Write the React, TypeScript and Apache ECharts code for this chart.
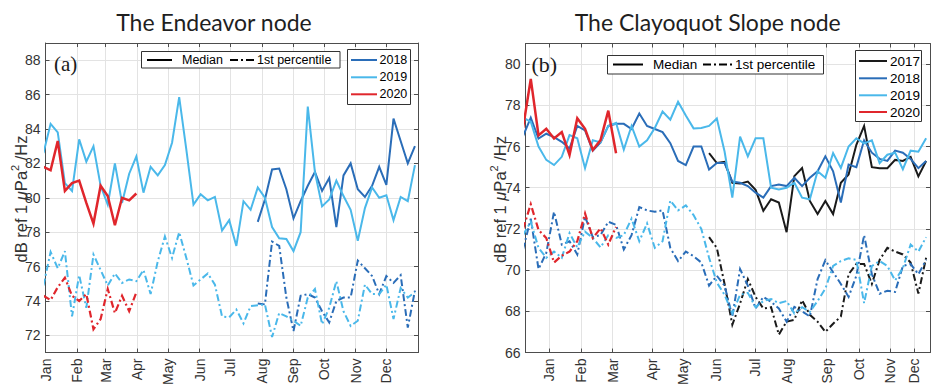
import React, { useEffect, useRef } from 'react';
import * as echarts from 'echarts';

// ---------- tick labels ----------
const monthNames = ['Jan', 'Feb', 'Mar', 'Apr', 'May', 'Jun', 'Jul', 'Aug', 'Sep', 'Oct', 'Nov', 'Dec'];
// Endeavor panel: x = day of year
const endeavorMonthTicks = [0, 31, 59, 90, 120, 151, 181, 212, 243, 273, 304, 334];
const endeavorYTicks = [72, 74, 76, 78, 80, 82, 84, 86, 88];
const endeavorFirstDay = -2; // day of year of weekly sample 0
// Clayoquot panel: x = weekly sample index
const clayMonthTicks = [3.37, 7.46, 11.55, 16.66, 20.66, 24.84, 29.91, 34.08, 39.16, 43.37, 47.33, 50.46];
const clayYTicks = [66, 68, 70, 72, 74, 76, 78, 80];

// ---------- Endeavor node (weekly values, dB) ----------
const endeavorMed2018Start = 30;
const endeavorMed2018 = [78.6, 79.9, 81.65, 81.7, 80.5, 78.8, 79.8, 80.7, 81.5, 80.4, 81.15, 78.3, 81.3, 82.0, 80.5, 80.05, 80.7, 81.8, 80.75, 84.6, 83.3, 82.0, 83.0];
const endeavorMed2019Start = 0;
const endeavorMed2019 = [82.6, 84.3, 83.8, 80.85, 80.4, 83.4, 82.1, 83.0, 80.7, 79.6, 82.0, 79.7, 81.4, 82.4, 80.3, 81.8, 81.3, 81.9, 83.2, 85.85, 82.8, 79.6, 80.2, 79.85, 80.05, 78.1, 78.7, 77.2, 79.8, 79.3, 80.6, 80.0, 78.3, 77.65, 77.6, 76.9, 78.0, 85.3, 81.5, 79.5, 79.9, 81.0, 80.1, 79.3, 77.5, 79.4, 80.6, 80.0, 80.15, 78.7, 80.05, 79.8, 81.9];
const endeavorMed2020Start = 0;
const endeavorMed2020 = [81.8, 81.6, 83.3, 80.4, 80.85, 81.0, 79.7, 78.5, 80.7, 80.1, 78.4, 80.0, 79.85, 80.25];
const endeavorP1_2018Start = 30;
const endeavorP1_2018 = [73.85, 73.8, 77.45, 77.2, 74.2, 72.25, 74.3, 74.4, 74.2, 73.4, 72.75, 74.0, 74.2, 74.2, 76.35, 75.9, 75.45, 74.4, 75.45, 75.05, 75.5, 72.45, 74.6];
const endeavorP1_2019Start = 0;
const endeavorP1_2019 = [74.9, 76.85, 75.9, 76.9, 73.1, 75.5, 73.6, 76.7, 75.8, 74.9, 75.6, 75.05, 75.25, 75.15, 75.8, 74.4, 76.3, 77.75, 76.5, 78.0, 76.5, 74.9, 75.25, 75.6, 74.95, 73.1, 73.05, 73.5, 72.7, 73.7, 73.75, 73.8, 71.9, 73.3, 73.1, 72.85, 72.55, 74.2, 74.7, 72.65, 73.6, 75.15, 73.4, 72.55, 72.85, 74.95, 74.4, 74.4, 74.95, 72.95, 74.75, 74.2, 74.5];
const endeavorP1_2020Start = 0;
const endeavorP1_2020 = [74.3, 74.05, 74.8, 75.35, 74.3, 74.0, 74.4, 72.35, 72.95, 74.7, 73.3, 74.3, 73.4, 74.5];

// ---------- Clayoquot Slope node (weekly values, dB) ----------
const clayMed2017Start = 24;
const clayMed2017 = [75.68, 75.2, 75.25, 74.24, 74.2, 74.3, 73.9, 72.88, 73.44, 73.28, 71.84, 74.56, 74.96, 73.36, 72.72, 73.36, 72.72, 74.24, 74.64, 76.08, 77.0, 75.0, 74.95, 74.95, 75.35, 75.3, 75.5, 74.55, 75.3];
const clayMed2018Start = 0;
const clayMed2018 = [76.5, 77.4, 76.39, 76.62, 76.46, 76.23, 75.9, 77.0, 76.78, 75.8, 76.2, 77.0, 77.1, 77.1, 76.85, 77.6, 77.0, 76.85, 76.7, 76.16, 75.3, 75.1, 76.0, 76.0, 74.88, 75.2, 75.2, 74.3, 74.24, 74.08, 73.76, 73.52, 74.08, 74.16, 74.08, 74.48, 74.08, 74.48, 74.8, 75.52, 74.8, 73.28, 75.12, 75.0, 76.3, 75.7, 75.4, 75.3, 75.8, 75.7, 75.4, 74.95, 75.3];
const clayMed2019Start = 0;
const clayMed2019 = [77.4, 77.2, 76.0, 75.35, 75.1, 75.5, 76.55, 76.4, 74.95, 76.3, 76.2, 77.0, 77.15, 75.85, 77.0, 76.0, 76.3, 76.9, 77.7, 77.3, 78.17, 77.5, 76.88, 76.9, 77.0, 77.36, 75.76, 73.52, 76.48, 75.52, 76.4, 76.4, 74.0, 73.92, 74.0, 74.24, 73.52, 73.44, 74.8, 74.48, 75.68, 74.96, 76.0, 76.4, 76.15, 76.3, 75.2, 75.6, 75.7, 74.9, 75.8, 75.75, 76.4];
const clayMed2020Start = 0;
const clayMed2020 = [76.9, 79.28, 76.54, 76.86, 76.39, 76.7, 75.59, 77.37, 76.86, 75.83, 76.31, 77.74, 75.67];
const clayP1_2017Start = 24;
const clayP1_2017 = [71.6, 71.08, 69.33, 67.35, 68.38, 69.57, 68.7, 68.14, 68.2, 66.87, 67.5, 67.59, 68.54, 67.83, 67.5, 67.0, 67.4, 67.75, 69.8, 70.3, 70.3, 69.33, 70.5, 71.08, 70.9, 70.76, 70.37, 68.86, 70.6];
const clayP1_2018Start = 0;
const clayP1_2018 = [71.0, 72.5, 70.05, 70.84, 72.83, 71.24, 71.4, 70.76, 72.6, 71.6, 71.7, 72.35, 72.2, 71.0, 71.7, 73.06, 72.9, 72.83, 72.9, 71.08, 70.44, 70.9, 70.68, 70.37, 69.25, 69.73, 69.25, 67.75, 70.05, 69.25, 68.14, 68.7, 68.46, 68.14, 67.5, 68.22, 68.0, 67.75, 69.57, 70.48, 69.9, 69.33, 68.7, 69.73, 71.7, 69.8, 68.86, 69.0, 68.94, 70.2, 70.3, 69.8, 70.5];
const clayP1_2019Start = 0;
const clayP1_2019 = [71.7, 72.35, 71.08, 70.6, 70.9, 70.6, 71.8, 71.1, 71.87, 71.56, 71.1, 71.7, 71.56, 71.7, 72.5, 71.4, 72.27, 71.08, 71.4, 73.38, 72.9, 73.14, 72.67, 72.0, 70.6, 69.4, 68.8, 67.9, 68.8, 68.9, 68.2, 68.5, 68.6, 68.4, 68.5, 67.9, 68.2, 67.98, 68.5, 69.1, 70.2, 70.44, 70.57, 70.5, 68.4, 70.2, 70.44, 70.2, 69.5, 70.1, 71.24, 70.9, 71.6];
const clayP1_2020Start = 0;
const clayP1_2020 = [72.0, 73.2, 71.95, 71.56, 70.37, 70.7, 70.9, 71.4, 72.75, 71.56, 72.03, 71.24, 72.1];

// ---------- styles ----------
const C2017 = '#1a1a1a';
const C2018 = '#2a6db8';
const C2019 = '#4ab8ea';
const C2020 = '#e0262c';
const DASHDOT = [7, 3, 2, 3];
const FONT = '"Liberation Sans", Arial, sans-serif';
const AXIS_COLOR = '#4d4d4d';
const GRID_COLOR = '#e3e3e3';
const LABEL_COLOR = '#333333';

const endeavorPts = (start: number, vals: number[]) =>
  vals.map((v, j) => [endeavorFirstDay + 7 * (start + j), v]);
const clayPts = (start: number, vals: number[]) => vals.map((v, j) => [start + j, v]);

function lineSeries(data: number[][], color: string, dashed: boolean, axis: number, width = 2, z = 3) {
  return {
    type: 'line',
    data,
    xAxisIndex: axis,
    yAxisIndex: axis,
    showSymbol: false,
    symbol: 'none',
    silent: true,
    clip: true,
    z,
    lineStyle: { color, width, type: dashed ? DASHDOT : 'solid', cap: 'butt', join: 'miter' },
  };
}

function monthFormatter(ticks: number[]) {
  return (v: number) => {
    const i = ticks.findIndex((t) => Math.abs(t - v) < 1e-6);
    return i >= 0 ? monthNames[i] : '';
  };
}

function xAxes(grid: number, min: number, max: number, ticks: number[]) {
  const base = {
    type: 'value',
    gridIndex: grid,
    min,
    max,
    axisLine: { show: true, onZero: false, lineStyle: { color: AXIS_COLOR, width: 1 } },
    axisTick: { show: true, inside: true, length: 4, customValues: ticks, lineStyle: { color: AXIS_COLOR } },
  };
  return [
    {
      ...base,
      position: 'bottom',
      axisLabel: {
        show: true,
        customValues: ticks,
        rotate: 90,
        margin: 6,
        fontFamily: FONT,
        fontSize: 14,
        color: LABEL_COLOR,
        formatter: monthFormatter(ticks),
      },
      splitLine: { show: true, lineStyle: { color: GRID_COLOR, width: 1 } },
    },
    {
      ...base,
      position: 'top',
      axisLabel: { show: false },
      splitLine: { show: false },
    },
  ];
}

function yAxes(grid: number, min: number, max: number, ticks: number[]) {
  const base = {
    type: 'value',
    gridIndex: grid,
    min,
    max,
    axisLine: { show: true, onZero: false, lineStyle: { color: AXIS_COLOR, width: 1 } },
    axisTick: { show: true, inside: true, length: 4, customValues: ticks, lineStyle: { color: AXIS_COLOR } },
  };
  return [
    {
      ...base,
      position: 'left',
      axisLabel: {
        show: true,
        customValues: ticks,
        margin: 5,
        fontFamily: FONT,
        fontSize: 14,
        color: LABEL_COLOR,
      },
      splitLine: { show: true, lineStyle: { color: GRID_COLOR, width: 1 } },
    },
    {
      ...base,
      position: 'right',
      axisLabel: { show: false },
      splitLine: { show: false },
    },
  ];
}

const yLabelRich = {
  a: { fontFamily: FONT, fontSize: 16.5, fill: '#333', lineHeight: 20, verticalAlign: 'bottom' },
  mu: { fontFamily: FONT, fontSize: 16.5, fontStyle: 'italic', fill: '#333', lineHeight: 20, verticalAlign: 'bottom' },
  sup: { fontFamily: FONT, fontSize: 11, fill: '#333', lineHeight: 15, verticalAlign: 'top' },
};

function yLabel(x: number, y: number) {
  return {
    type: 'text',
    x,
    y,
    rotation: Math.PI / 2,
    z: 100,
    style: {
      text: '{a|dB ref 1 }{mu|μ}{a|Pa}{sup|2}{a| /Hz}',
      rich: yLabelRich,
      align: 'center',
      verticalAlign: 'middle',
    },
  };
}

function txt(x: number, y: number, text: string, size: number, family = FONT, color = '#000', align = 'left') {
  return {
    type: 'text',
    x,
    y,
    z: 100,
    style: { text, fontSize: size, fontFamily: family, fill: color, align, verticalAlign: 'middle' },
  };
}
function seg(x1: number, x2: number, y: number, color: string, dashed = false) {
  return {
    type: 'line',
    z: 100,
    shape: { x1, y1: y, x2, y2: y },
    style: { stroke: color, lineWidth: 2, lineDash: dashed ? [8, 3, 2, 3] : null },
  };
}
function box(x: number, y: number, w: number, h: number) {
  return {
    type: 'rect',
    z: 99,
    shape: { x, y, width: w, height: h },
    style: { fill: '#ffffff', stroke: '#333333', lineWidth: 1 },
  };
}

export default function App() {
  const ref = useRef<HTMLDivElement>(null);
  useEffect(() => {
    if (!ref.current) return;
    const chart = echarts.init(ref.current, undefined, { renderer: 'svg' });
    const option: any = {
      animation: false,
      backgroundColor: '#ffffff',
      grid: [
        { left: 45.5, top: 43, width: 372.5, height: 312 },
        { left: 525.5, top: 43.5, width: 404.5, height: 312.5 },
      ],
      xAxis: [
        ...xAxes(0, 0, 365, endeavorMonthTicks),
        ...xAxes(1, 0.32, 52.5, clayMonthTicks),
      ],
      yAxis: [...yAxes(0, 71, 89, endeavorYTicks), ...yAxes(1, 66, 81, clayYTicks)],
      series: [
        lineSeries(endeavorPts(endeavorP1_2018Start, endeavorP1_2018), C2018, true, 0),
        lineSeries(endeavorPts(endeavorP1_2019Start, endeavorP1_2019), C2019, true, 0),
        lineSeries(endeavorPts(endeavorP1_2020Start, endeavorP1_2020), C2020, true, 0, 2.2),
        lineSeries(endeavorPts(endeavorMed2018Start, endeavorMed2018), C2018, false, 0),
        lineSeries(endeavorPts(endeavorMed2019Start, endeavorMed2019), C2019, false, 0),
        lineSeries(endeavorPts(endeavorMed2020Start, endeavorMed2020), C2020, false, 0, 2.5),
        lineSeries(clayPts(clayP1_2017Start, clayP1_2017), C2017, true, 2),
        lineSeries(clayPts(clayP1_2018Start, clayP1_2018), C2018, true, 2),
        lineSeries(clayPts(clayP1_2019Start, clayP1_2019), C2019, true, 2),
        lineSeries(clayPts(clayP1_2020Start, clayP1_2020), C2020, true, 2, 2.2),
        lineSeries(clayPts(clayMed2017Start, clayMed2017), C2017, false, 2),
        lineSeries(clayPts(clayMed2018Start, clayMed2018), C2018, false, 2),
        lineSeries(clayPts(clayMed2019Start, clayMed2019), C2019, false, 2),
        lineSeries(clayPts(clayMed2020Start, clayMed2020), C2020, false, 2, 2.5),
      ],
      graphic: [
        txt(214, 21.5, 'The Endeavor node', 23, 'Lato, sans-serif', '#1f1f1f', 'center'),
        txt(707.7, 21.5, 'The Clayoquot Slope node', 23, 'Lato, sans-serif', '#1f1f1f', 'center'),
        yLabel(19.5, 199),
        yLabel(498, 199.5),
        txt(54, 64, '(a)', 21, '"Liberation Serif", serif', '#1a1a1a'),
        txt(531.5, 64, '(b)', 22, '"Liberation Serif", serif', '#1a1a1a'),
        // Endeavor legends
        box(141.5, 51.5, 198.5, 16.5),
        seg(147, 172, 60, '#000'),
        txt(182, 60, 'Median', 12.5),
        seg(230, 254, 60, '#000', true),
        txt(257, 60, '1st percentile', 12.5),
        box(347.5, 49.5, 63, 55),
        seg(351, 377, 60, C2018),
        txt(379.5, 60, '2018', 12.5),
        seg(351, 377, 77.3, C2019),
        txt(379.5, 77.3, '2019', 12.5),
        seg(351, 377, 94.3, C2020),
        txt(379.5, 94.3, '2020', 12.5),
        // Clayoquot legends
        box(607.5, 55.5, 216, 18.5),
        seg(613, 643, 64.5, '#000'),
        txt(653, 64.5, 'Median', 13.5),
        seg(703, 732, 64.5, '#000', true),
        txt(735, 64.5, '1st percentile', 13.5),
        box(855.5, 50.5, 66, 71),
        seg(859, 887, 61, C2017),
        txt(890, 61, '2017', 13.5),
        seg(859, 887, 78.3, C2018),
        txt(890, 78.3, '2018', 13.5),
        seg(859, 887, 95.3, C2019),
        txt(890, 95.3, '2019', 13.5),
        seg(859, 887, 112, C2020),
        txt(890, 112, '2020', 13.5),
      ],
    };
    chart.setOption(option);
    return () => chart.dispose();
  }, []);
  return (
    <div
      ref={ref}
      style={{ position: 'fixed', left: 0, top: 0, width: 931, height: 388, background: '#fff' }}
    />
  );
}
